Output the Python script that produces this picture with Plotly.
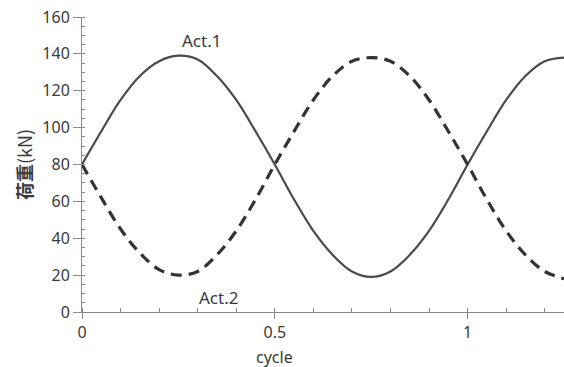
import plotly.graph_objects as go

# cycle positions (0 .. 1.25, every 0.05)
cycle = [0, 0.05, 0.1, 0.15, 0.2, 0.25, 0.3, 0.35, 0.4, 0.45, 0.5, 0.55, 0.6,
         0.65, 0.7, 0.75, 0.8, 0.85, 0.9, 0.95, 1.0, 1.05, 1.1, 1.15, 1.2, 1.25]
act1 = [80, 98, 115, 128, 136, 139, 137, 128, 115, 98, 80, 61, 44, 31, 22, 19,
        22, 31, 44, 61, 80, 98, 115, 128, 136, 138]
act2 = [80, 62, 45, 32, 23, 20, 22, 31, 44, 61, 80, 98, 115, 128, 136, 138,
        136, 128, 115, 98, 80, 61, 44, 31, 22, 18]

x_ticks = [0, 0.5, 1]
x_labels = ["0", "0.5", "1"]
y_ticks = [0, 20, 40, 60, 80, 100, 120, 140, 160]

line_col = "#4a4a4a"
axis_col = "#8a8a8a"
text_col = "#3a3a3a"

fig = go.Figure()
fig.add_trace(go.Scatter(x=cycle, y=act1, mode="lines", name="Act.1",
                         line=dict(color=line_col, width=2.2, shape="spline")))
fig.add_trace(go.Scatter(x=cycle, y=act2, mode="lines", name="Act.2",
                         line=dict(color="#333333", width=3.2, shape="spline", dash="11px,7px")))

fig.add_annotation(x=0.31, y=147, text="Act.1", showarrow=False,
                   font=dict(size=17, color=text_col))
fig.add_annotation(x=0.355, y=8, text="Act.2", showarrow=False,
                   font=dict(size=17, color=text_col))
fig.add_annotation(x=0.5, y=0, yref="paper", yshift=-45, text="cycle", showarrow=False,
                   yanchor="middle", font=dict(size=16, color=text_col))

fig.update_layout(
    width=564, height=367,
    margin=dict(l=82, r=0, t=17, b=55),
    paper_bgcolor="white", plot_bgcolor="white",
    showlegend=False,
    font=dict(family="Noto Sans, Liberation Sans, sans-serif", size=16, color=text_col),
    xaxis=dict(range=[0, 1.25], tickvals=x_ticks, ticktext=x_labels, automargin=False,
               showgrid=False, zeroline=False, showline=True, linecolor=axis_col, linewidth=1,
               ticks="outside", ticklen=6, tickcolor=axis_col, ticklabeloverflow="allow",
               minor=dict(dtick=0.1, ticks="inside", ticklen=4, tickcolor=axis_col),
               tickfont=dict(size=16)),
    yaxis=dict(range=[0, 160], tickvals=y_ticks, automargin=False,
               showgrid=False, zeroline=False, showline=True, linecolor=axis_col, linewidth=1,
               ticks="outside", ticklen=8, tickcolor=axis_col, ticklabeloverflow="allow",
               minor=dict(dtick=5, ticks="inside", ticklen=3, tickcolor=axis_col),
               tickfont=dict(size=16),
               title=dict(text="<b>荷重</b>(kN)", standoff=5,
                          font=dict(family="Noto Sans CJK JP", size=18, color=text_col))),
)

# drop the default page margin so the figure fills the window exactly
fig.write_html("out.html", config={"displayModeBar": False},
               post_script="document.body.style.margin='0';")
